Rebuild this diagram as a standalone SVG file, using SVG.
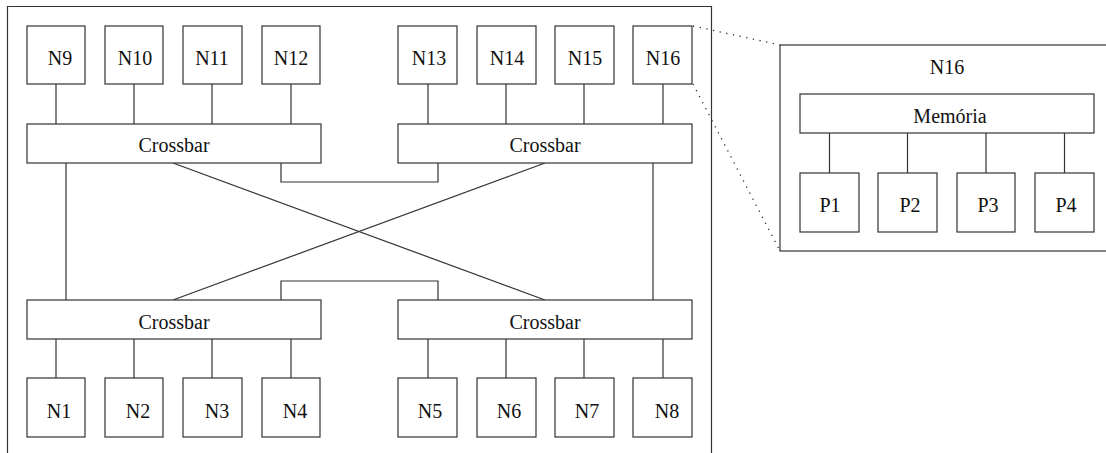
<svg xmlns="http://www.w3.org/2000/svg" width="1106" height="453" viewBox="0 0 1106 453" font-family="Liberation Serif, Times New Roman, DejaVu Serif, serif">
<style>
.b{fill:#fff;stroke:#333;stroke-width:1.2}
line,polyline{stroke:#333;stroke-width:1.2;fill:none}
.dot{stroke:#333;stroke-width:1.3;stroke-dasharray:1.3 5.5}
text{font-size:20px;fill:#111;text-anchor:middle}
</style>
<rect width="1106" height="453" fill="#fff"/>
<polyline id="frame" points="7.5,460 7.5,6.5 711.5,6.5 711.5,460"/>
<g id="N16-detail"><rect class="b" x="780" y="45" width="340" height="206"/><text x="947" y="74">N16</text></g>
<g id="connectors">
<line x1="56" y1="84" x2="56" y2="124"/>
<line x1="134" y1="84" x2="134" y2="124"/>
<line x1="212" y1="84" x2="212" y2="124"/>
<line x1="291" y1="84" x2="291" y2="124"/>
<line x1="428" y1="84" x2="428" y2="124"/>
<line x1="506" y1="84" x2="506" y2="124"/>
<line x1="584" y1="84" x2="584" y2="124"/>
<line x1="663" y1="84" x2="663" y2="124"/>
<line x1="56" y1="339" x2="56" y2="378"/>
<line x1="134" y1="339" x2="134" y2="378"/>
<line x1="212" y1="339" x2="212" y2="378"/>
<line x1="291" y1="339" x2="291" y2="378"/>
<line x1="428" y1="339" x2="428" y2="378"/>
<line x1="506" y1="339" x2="506" y2="378"/>
<line x1="584" y1="339" x2="584" y2="378"/>
<line x1="663" y1="339" x2="663" y2="378"/>
<polyline points="281,163 281,182 438,182 438,163"/>
<polyline points="281,300 281,281 438,281 438,300"/>
<line x1="66" y1="163" x2="66" y2="300"/>
<line x1="653" y1="163" x2="653" y2="300"/>
<line x1="173" y1="163" x2="545" y2="300"/>
<line x1="545" y1="163" x2="173" y2="300"/>
<line x1="829.5" y1="133" x2="829.5" y2="173"/>
<line x1="907.5" y1="133" x2="907.5" y2="173"/>
<line x1="986" y1="133" x2="986" y2="173"/>
<line x1="1064.5" y1="133" x2="1064.5" y2="173"/>
<line class="dot" x1="693" y1="26" x2="780" y2="45"/>
<line class="dot" x1="693" y1="84" x2="780" y2="251"/>
</g>
<g id="N9"><rect class="b" x="27" y="26" width="58" height="58"/><text x="60" y="65">N9</text></g>
<g id="N10"><rect class="b" x="105" y="26" width="58" height="58"/><text x="135" y="65">N10</text></g>
<g id="N11"><rect class="b" x="183" y="26" width="59" height="58"/><text x="212" y="65">N11</text></g>
<g id="N12"><rect class="b" x="262" y="26" width="58" height="58"/><text x="291" y="65">N12</text></g>
<g id="N13"><rect class="b" x="398" y="26" width="59" height="58"/><text x="429" y="65">N13</text></g>
<g id="N14"><rect class="b" x="477" y="26" width="59" height="58"/><text x="507" y="65">N14</text></g>
<g id="N15"><rect class="b" x="555" y="26" width="59" height="58"/><text x="585" y="65">N15</text></g>
<g id="N16"><rect class="b" x="633" y="26" width="59" height="58"/><text x="663" y="65">N16</text></g>
<g id="crossbar-tl"><rect class="b" x="27" y="124" width="294" height="39"/><text x="174" y="152">Crossbar</text></g>
<g id="crossbar-tr"><rect class="b" x="398" y="124" width="294" height="39"/><text x="545" y="152">Crossbar</text></g>
<g id="crossbar-bl"><rect class="b" x="27" y="300" width="294" height="39"/><text x="174" y="329">Crossbar</text></g>
<g id="crossbar-br"><rect class="b" x="398" y="300" width="294" height="39"/><text x="545" y="329">Crossbar</text></g>
<g id="N1"><rect class="b" x="27" y="378" width="58" height="59"/><text x="59" y="418">N1</text></g>
<g id="N2"><rect class="b" x="105" y="378" width="58" height="59"/><text x="138" y="418">N2</text></g>
<g id="N3"><rect class="b" x="183" y="378" width="59" height="59"/><text x="217" y="418">N3</text></g>
<g id="N4"><rect class="b" x="262" y="378" width="58" height="59"/><text x="295" y="418">N4</text></g>
<g id="N5"><rect class="b" x="398" y="378" width="59" height="59"/><text x="430" y="418">N5</text></g>
<g id="N6"><rect class="b" x="477" y="378" width="59" height="59"/><text x="509" y="418">N6</text></g>
<g id="N7"><rect class="b" x="555" y="378" width="59" height="59"/><text x="587" y="418">N7</text></g>
<g id="N8"><rect class="b" x="633" y="378" width="59" height="59"/><text x="667" y="418">N8</text></g>
<g id="memoria"><rect class="b" x="800" y="94" width="294" height="39"/><text x="950" y="123">Memória</text></g>
<g id="P1"><rect class="b" x="800" y="173" width="59" height="59"/><text x="830" y="212">P1</text></g>
<g id="P2"><rect class="b" x="878" y="173" width="59" height="59"/><text x="910" y="212">P2</text></g>
<g id="P3"><rect class="b" x="957" y="173" width="58" height="59"/><text x="988" y="212">P3</text></g>
<g id="P4"><rect class="b" x="1035" y="173" width="59" height="59"/><text x="1066" y="212">P4</text></g>
</svg>
